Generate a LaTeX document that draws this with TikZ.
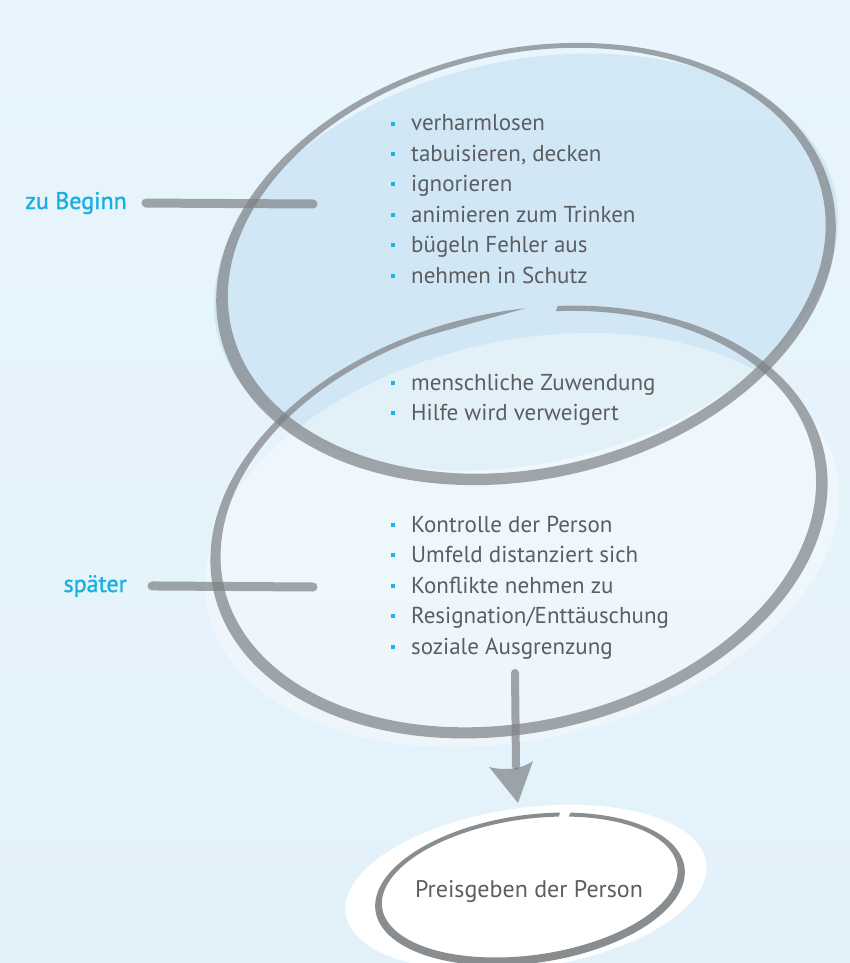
\documentclass[tikz,border=0pt]{standalone}
\usepackage{fontspec}
\setmainfont{PT Sans}
\newfontfamily\labfont{PT Sans}[FakeBold=1.3]
\definecolor{bgcol}{HTML}{E8F5FC}
\definecolor{bgcolb}{HTML}{E3F1FB}
\definecolor{bluefill}{HTML}{BEDCF0}
\definecolor{ringgray}{HTML}{7D8185}
\definecolor{textgray}{HTML}{5B5E61}
\definecolor{labcyan}{HTML}{1AAFE2}
\definecolor{bulcyan}{HTML}{1AB4E8}
\newcommand\bul{{\color{bulcyan}\rule[5pt]{4pt}{4pt}}\hspace{16pt}}
\begin{document}
\begin{tikzpicture}[x=1pt,y=-1pt,
  ringfill/.style={fill=ringgray, opacity=0.7},
  hbrush/.style={draw=ringgray, line width=9pt, opacity=0.7, line cap=round},
  item/.style={anchor=base west, font=\fontsize{23}{26}\selectfont, text=textgray, inner sep=0pt},
  lab/.style={anchor=base east, font=\labfont\fontsize{24}{26}\selectfont, text=labcyan, inner sep=0pt},
  endtext/.style={anchor=base, font=\fontsize{24}{26}\selectfont, text=textgray, inner sep=0pt}]
\useasboundingbox (0,0) rectangle (850,963);
\shade[top color=bgcol, bottom color=bgcolb] (0,0) rectangle (850,963);

% fills
\begin{scope}[shift={(526,262)}, rotate=13]
  \fill[bluefill, opacity=0.5] (0pt,0pt) ellipse [x radius=317pt, y radius=201pt];
\end{scope}
\begin{scope}[shift={(522,540)}, rotate=13]
  \fill[white, opacity=0.38] (0pt,0pt) ellipse [x radius=322pt, y radius=199pt];
\end{scope}
\begin{scope}[shift={(526,888)}, rotate=8]
  \fill[white] (0pt,0pt) ellipse [x radius=182pt, y radius=80pt];
\end{scope}

% ring 1 (closed, tapered)
\begin{scope}[shift={(526,264)}, rotate=13]
  \fill[ringfill, even odd rule] (0pt,0pt) ellipse [x radius=314pt, y radius=215pt]
     (1.5pt,3pt) ellipse [x radius=303pt, y radius=207pt];
\end{scope}
% ring 2 (open at the top, tapered end)
\begin{scope}[shift={(519,522)}, rotate=13]
  \fill[ringfill] (80:313pt and 210pt) arc[start angle=80, end angle=434, x radius=313pt, y radius=210pt]
     -- ([shift={(0pt,3pt)}]434:302pt and 202pt) arc[start angle=434, end angle=100, x radius=302pt, y radius=202pt]
     -- cycle;
\end{scope}
% ring 3 around the final text
\begin{scope}[shift={(530,889)}, rotate=8]
  \fill[ringfill, opacity=0.9] (75:156pt and 74pt) arc[start angle=75, end angle=431, x radius=156pt, y radius=74pt]
     -- ([shift={(0pt,2pt)}]431:149pt and 68pt) arc[start angle=431, end angle=75, x radius=149pt, y radius=68pt]
     -- cycle;
\end{scope}

% labels and their strokes
\node[lab] (zu) at (127,209) {zu Beginn};
\coordinate (zuend) at (313,204);
\draw[hbrush] ([xshift=19pt]zu.east) -- (zuend);
\node[lab] (sp) at (127,592) {später};
\coordinate (spend) at (313,587);
\draw[hbrush] ([xshift=25pt]sp.east) -- (spend);

% items
\node[item] (i1) at (391,131) {\bul verharmlosen};
\node[item] (i2) at (391,161) {\bul tabuisieren, decken};
\node[item] (i3) at (391,191) {\bul ignorieren};
\node[item] (i4) at (391,222) {\bul animieren zum Trinken};
\node[item] (i5) at (391,252) {\bul bügeln Fehler aus};
\node[item] (i6) at (391,283) {\bul nehmen in Schutz};
\node[item] (i7) at (391,390) {\bul menschliche Zuwendung};
\node[item] (i8) at (391,420) {\bul Hilfe wird verweigert};
\node[item] (i9) at (391,532) {\bul Kontrolle der Person};
\node[item] (i10) at (391,562) {\bul Umfeld distanziert sich};
\node[item] (i11) at (391,593) {\bul Konflikte nehmen zu};
\node[item] (i12) at (391,623) {\bul Resignation/Enttäuschung};
\node[item] (i13) at (391,654) {\bul soziale Ausgrenzung};

% final node
\node[endtext] (pg) at (529,897) {Preisgeben der Person};

% arrow
\coordinate (atop) at (515,673);
\coordinate (aneck) at (516,766);
\draw[draw=ringgray, line width=8pt, opacity=0.7, line cap=round] (atop) -- (aneck);
\fill[ringgray, opacity=0.7] (489,767) .. controls (505,771) and (522,769) .. (533,761) -- (518,803) -- cycle;
\end{tikzpicture}
\end{document}
